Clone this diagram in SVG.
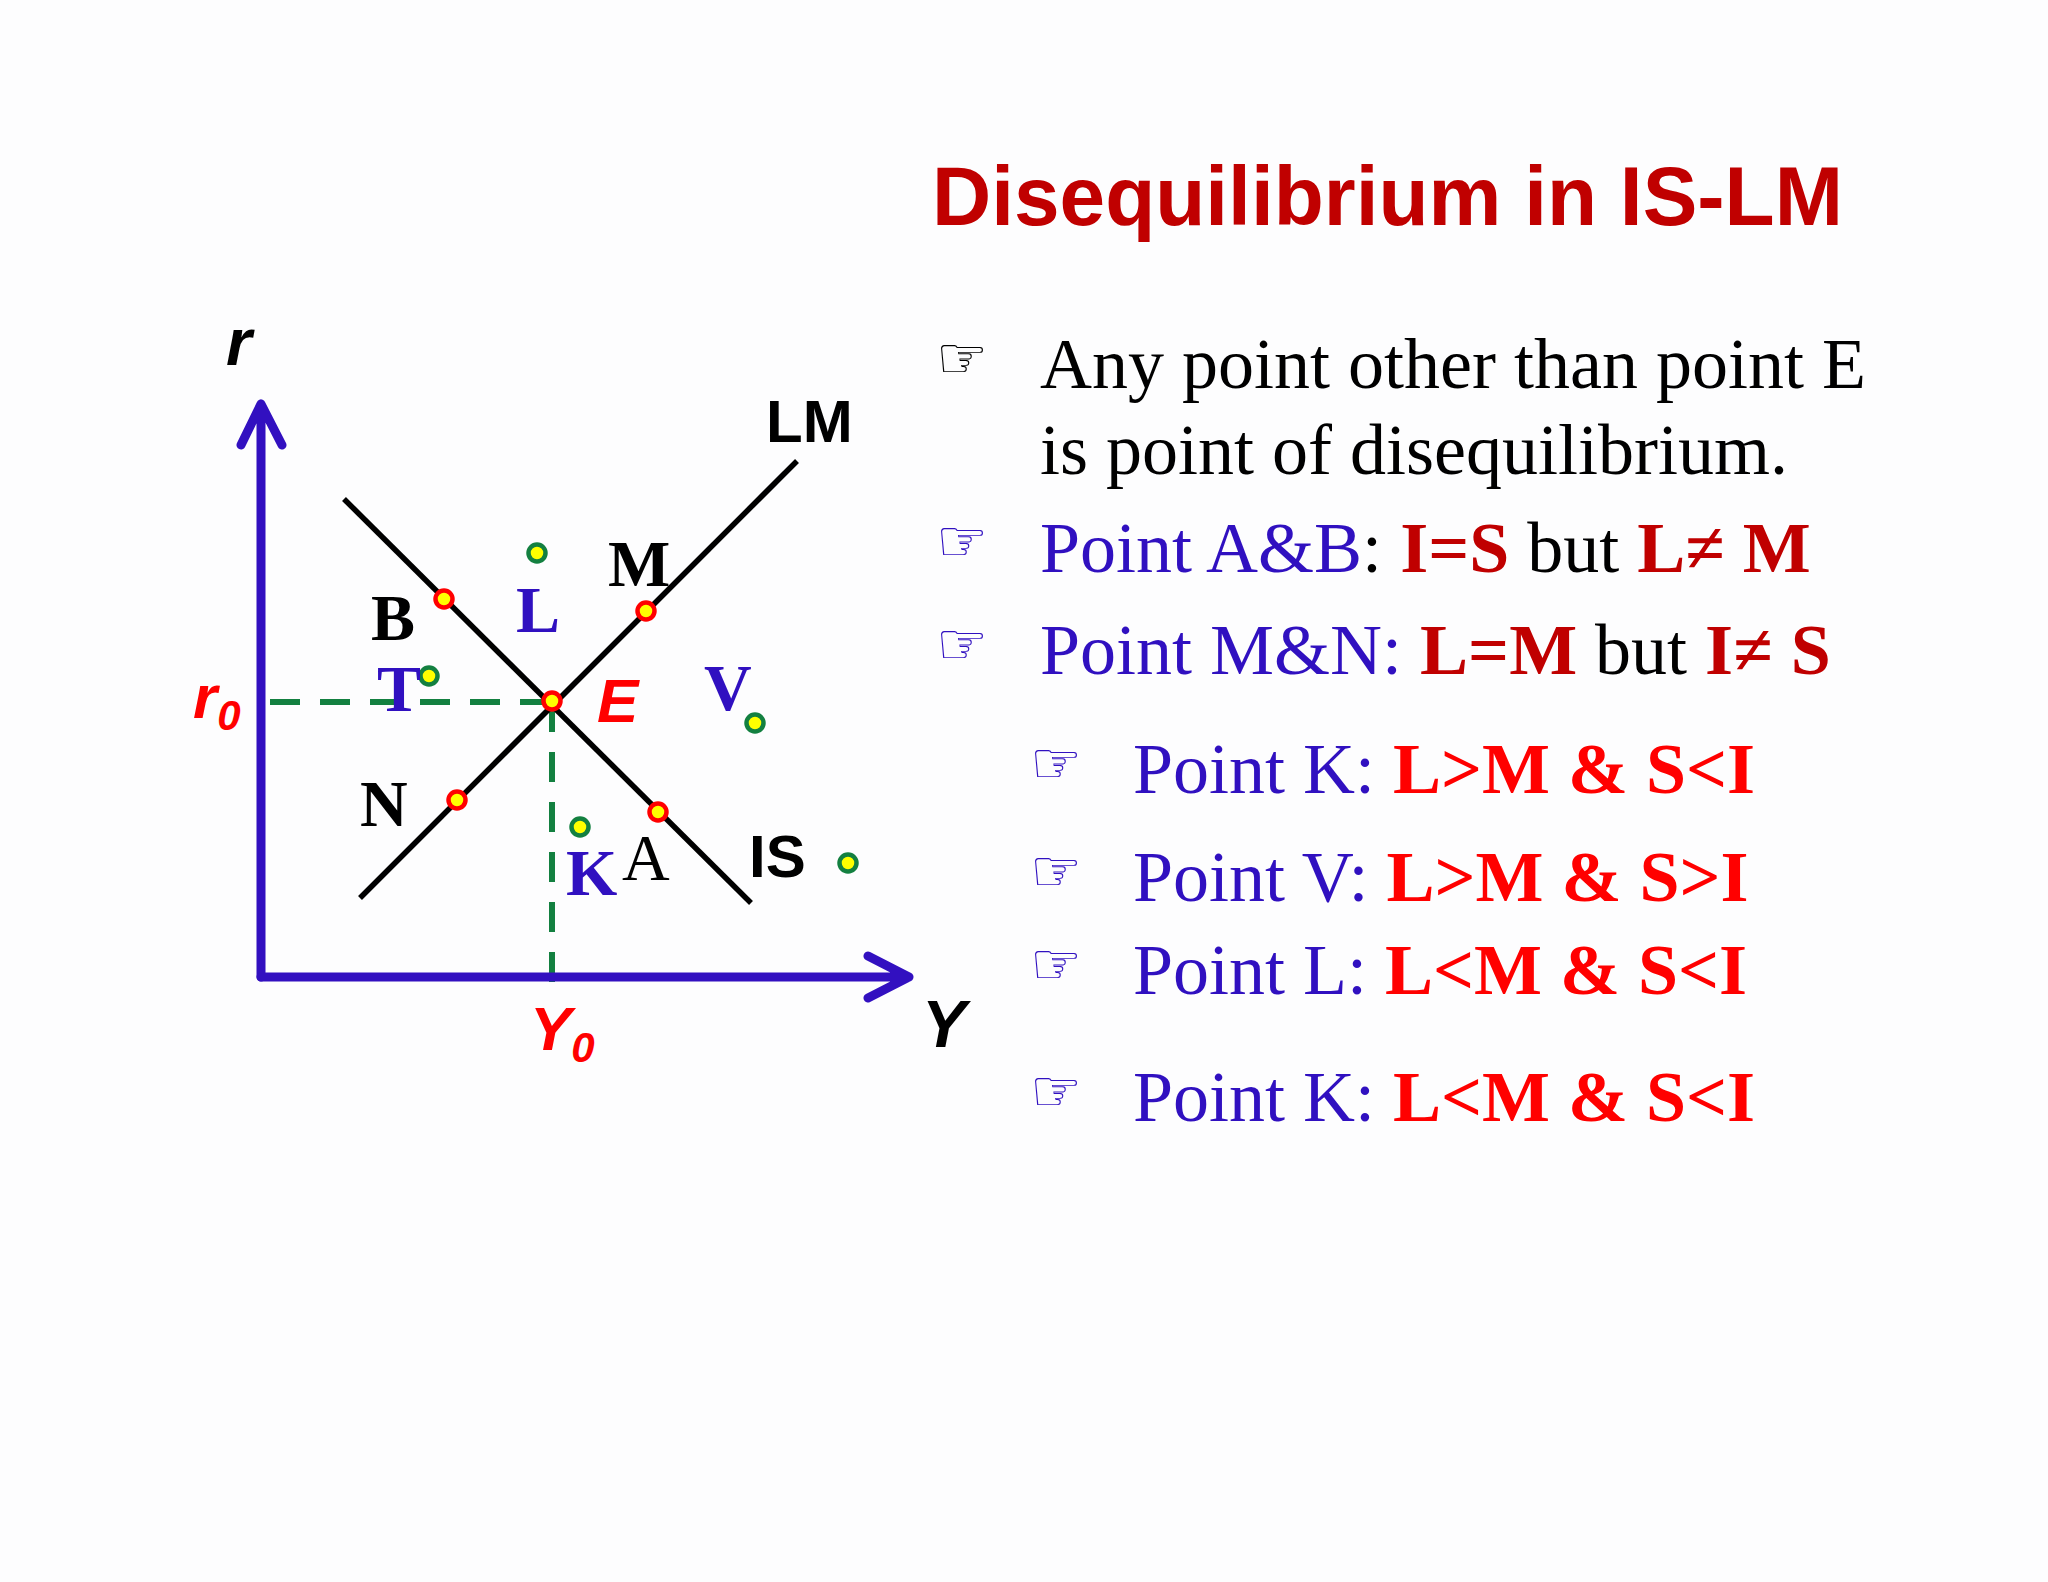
<svg xmlns="http://www.w3.org/2000/svg" width="2048" height="1582" viewBox="0 0 2048 1582">
<style>
.ax{stroke:#3210c0;stroke-width:9;fill:none;stroke-linecap:round;stroke-linejoin:round}
.ln{stroke:#000;stroke-width:5.5;fill:none}
.dash{stroke:#138040;stroke-width:6;stroke-dasharray:30,20;fill:none}
.rd{fill:#ffff00;stroke:#ff0000;stroke-width:4.5}
.gd{fill:#ffff00;stroke:#138040;stroke-width:4.5}
.sb{font-family:"Liberation Sans",Arial,sans-serif;font-weight:bold}
.sbi{font-family:"Liberation Sans",Arial,sans-serif;font-weight:bold;font-style:italic}
.tm{font-family:"Liberation Serif","Times New Roman",serif}
.hand{font-family:"DejaVu Sans",sans-serif;font-size:58px}
.blue{fill:#3010c0}
.red{fill:#ff0000}
.dred{fill:#c00000}
</style>
<rect width="2048" height="1582" fill="#fdfdfe"/>
<g id="connectors">
<path class="dash" d="M270 702 H552"/>
<path class="dash" d="M552 702 V987"/>
<path class="ln" d="M344 499 L751 903"/>
<path class="ln" d="M360 898 L797 461"/>
<path class="ax" d="M261 977 V404 M241 445 L261 404 L282 445"/>
<path class="ax" d="M261 977 H909 M868 956 L909 977 L868 998"/>
</g>
<g id="points">
<circle class="rd" cx="552" cy="701" r="8.5"/>
<circle class="rd" cx="444" cy="599" r="8.5"/>
<circle class="rd" cx="646" cy="611" r="8.5"/>
<circle class="rd" cx="457" cy="800" r="8.5"/>
<circle class="rd" cx="658" cy="812" r="8.5"/>
<circle class="gd" cx="537" cy="553" r="8.5"/>
<circle class="gd" cx="429" cy="676" r="8.5"/>
<circle class="gd" cx="755" cy="723" r="8.5"/>
<circle class="gd" cx="580" cy="827" r="8.5"/>
<circle class="gd" cx="848" cy="863" r="8.5"/>
</g>
<g id="labels">
<text class="sbi" x="226" y="365" font-size="66">r</text>
<text class="sbi" x="922" y="1047" font-size="66">Y</text>
<text class="sbi red" x="193" y="718" font-size="62">r<tspan font-size="42" dy="12">0</tspan></text>
<text class="sbi red" x="530" y="1050" font-size="62">Y<tspan font-size="42" dy="12">0</tspan></text>
<text class="sbi red" x="597" y="722" font-size="62">E</text>
<text class="sb" x="766" y="442" font-size="60">LM</text>
<text class="sb" x="749" y="877" font-size="60">IS</text>
<text class="tm" x="371" y="640" font-size="66" font-weight="bold">B</text>
<text class="tm" x="608" y="586" font-size="66" font-weight="bold">M</text>
<text class="tm" x="360" y="826" font-size="66" font-weight="bold">N</text>
<text class="tm" x="622" y="880" font-size="66">A</text>
<text class="tm blue" x="516" y="632" font-size="66" font-weight="bold">L</text>
<text class="tm blue" x="377" y="711" font-size="66" font-weight="bold">T</text>
<text class="tm blue" x="704" y="710" font-size="66" font-weight="bold">V</text>
<text class="tm blue" x="566" y="895" font-size="66" font-weight="bold">K</text>
</g>
<g id="title">
<text class="sb dred" x="932" y="225" font-size="84" textLength="911" lengthAdjust="spacingAndGlyphs">Disequilibrium in IS-LM</text>
</g>
<g id="bullets" class="tm" font-size="72">
<text class="hand" x="936" y="378">☞</text>
<text x="1040" y="388" textLength="826" lengthAdjust="spacingAndGlyphs">Any point other than point E</text>
<text x="1040" y="474">is point of disequilibrium.</text>
<text class="hand blue" x="936" y="561">☞</text>
<text x="1040" y="572"><tspan class="blue">Point A&amp;B</tspan>: <tspan class="dred" font-weight="bold">I=S</tspan> but  <tspan class="dred" font-weight="bold">L≠ M</tspan></text>
<text class="hand blue" x="936" y="664">☞</text>
<text x="1040" y="674"><tspan class="blue">Point M&amp;N: </tspan><tspan class="dred" font-weight="bold">L=M</tspan> but  <tspan class="dred" font-weight="bold">I≠ S</tspan></text>
<text class="hand blue" x="1030" y="783">☞</text>
<text x="1133" y="793"><tspan class="blue">Point K: </tspan><tspan class="red" font-weight="bold">L&gt;M &amp; S&lt;I</tspan></text>
<text class="hand blue" x="1030" y="891">☞</text>
<text x="1133" y="901"><tspan class="blue">Point V: </tspan><tspan class="red" font-weight="bold">L&gt;M &amp; S&gt;I</tspan></text>
<text class="hand blue" x="1030" y="984">☞</text>
<text x="1133" y="994"><tspan class="blue">Point L: </tspan><tspan class="red" font-weight="bold">L&lt;M &amp; S&lt;I</tspan></text>
<text class="hand blue" x="1030" y="1111">☞</text>
<text x="1133" y="1121"><tspan class="blue">Point K: </tspan><tspan class="red" font-weight="bold">L&lt;M &amp; S&lt;I</tspan></text>
</g>
</svg>
